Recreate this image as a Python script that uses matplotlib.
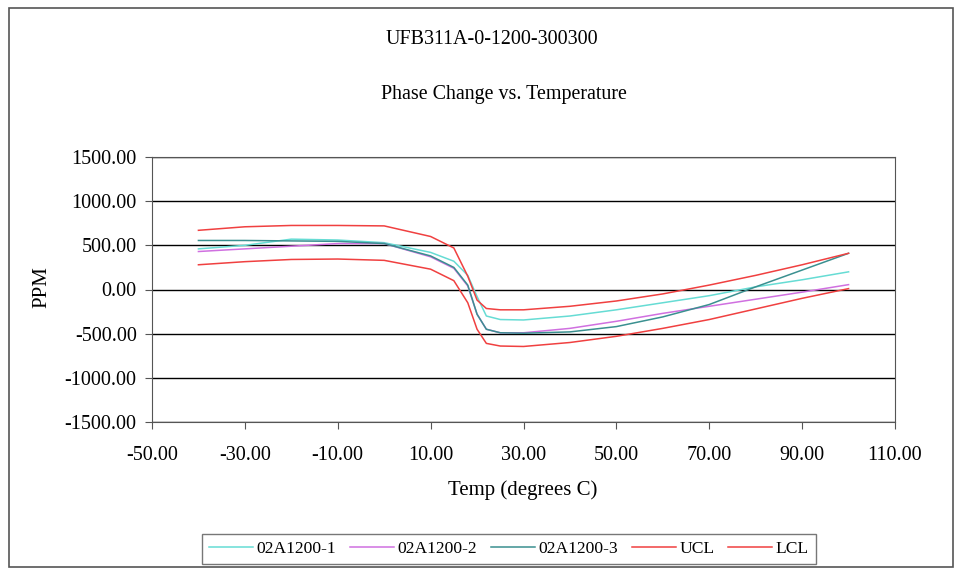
import matplotlib.pyplot as plt
from matplotlib.patches import Rectangle
from matplotlib.ticker import FormatStrFormatter

plt.rcParams['font.family'] = ['Liberation Serif', 'DejaVu Serif']

temps = [-40, -30, -20, -10, 0, 10, 15, 18, 20, 22, 25, 30, 40, 50, 60, 70, 80, 90, 100]

s1 = [460, 500, 570, 560, 530, 420, 320, 160, -80, -300, -340, -345, -300, -230, -150, -70, 30, 110, 200]
s2 = [430, 460, 490, 520, 520, 370, 240, 40, -280, -450, -490, -490, -440, -360, -270, -190, -110, -30, 55]
s3 = [555, 555, 550, 545, 520, 380, 250, 50, -280, -450, -490, -495, -480, -420, -310, -170, 30, 220, 410]
ucl = [670, 710, 725, 725, 720, 600, 470, 150, -120, -215, -230, -230, -190, -130, -50, 50, 160, 280, 410]
lcl = [280, 315, 340, 345, 330, 230, 100, -150, -450, -610, -640, -645, -600, -530, -440, -340, -220, -100, 10]

names = ['02A1200-1', '02A1200-2', '02A1200-3', 'UCL', 'LCL']
colors = ['#66dcd4', '#d070e0', '#3a9090', '#f04040', '#f04040']

W, H = 961, 571
fig = plt.figure(figsize=(W / 100, H / 100), dpi=100)
ax = fig.add_axes([152 / W, 1 - 422 / H, (895 - 152) / W, (422 - 157) / H])

for ys, name, c in zip([s1, s2, s3, ucl, lcl], names, colors):
    ax.plot(temps, ys, color=c, lw=1.1, label=name)

ax.set_xlim(-50, 110)
ax.set_ylim(-1500, 1500)
ax.set_xticks(range(-50, 111, 20))
ax.set_yticks(range(-1500, 1501, 500))
ax.xaxis.set_major_formatter(FormatStrFormatter('%.2f'))
ax.yaxis.set_major_formatter(FormatStrFormatter('%.2f'))
ax.grid(axis='y', color='black', lw=1)
ax.tick_params(direction='out', length=5, labelsize=14.5, color='#555555')
ax.tick_params(axis='x', pad=12)
ax.tick_params(axis='y', pad=6)
for s in ax.spines.values():
    s.set_color('#555555')
ax.set_axisbelow(True)

fig.text(523 / W, 1 - 490 / H, 'Temp (degrees C)', ha='center', va='center', fontsize=15)
fig.text(42 / W, 1 - 287 / H, 'PPM', ha='center', va='center', fontsize=15, rotation=90)

fig.text(492 / W, 1 - 40 / H, 'UFB311A-0-1200-300300', ha='center', va='center', fontsize=14.4)
fig.text(504 / W, 1 - 94 / H, 'Phase Change vs. Temperature', ha='center', va='center', fontsize=14.4)

leg = fig.legend(loc='center', bbox_to_anchor=(509 / W, 1 - 549 / H), ncol=5,
                 fontsize=12.6, frameon=True, fancybox=False, edgecolor='#555555',
                 handlelength=2.5, handletextpad=0.2, columnspacing=0.8, borderpad=0.4)
leg.get_frame().set_linewidth(1)

fig.patches.append(Rectangle((9 / W, 4 / H), 944 / W, 559 / H, transform=fig.transFigure,
                             fill=False, edgecolor='#555555', lw=1.2))

fig.savefig('out.png', dpi=100)
